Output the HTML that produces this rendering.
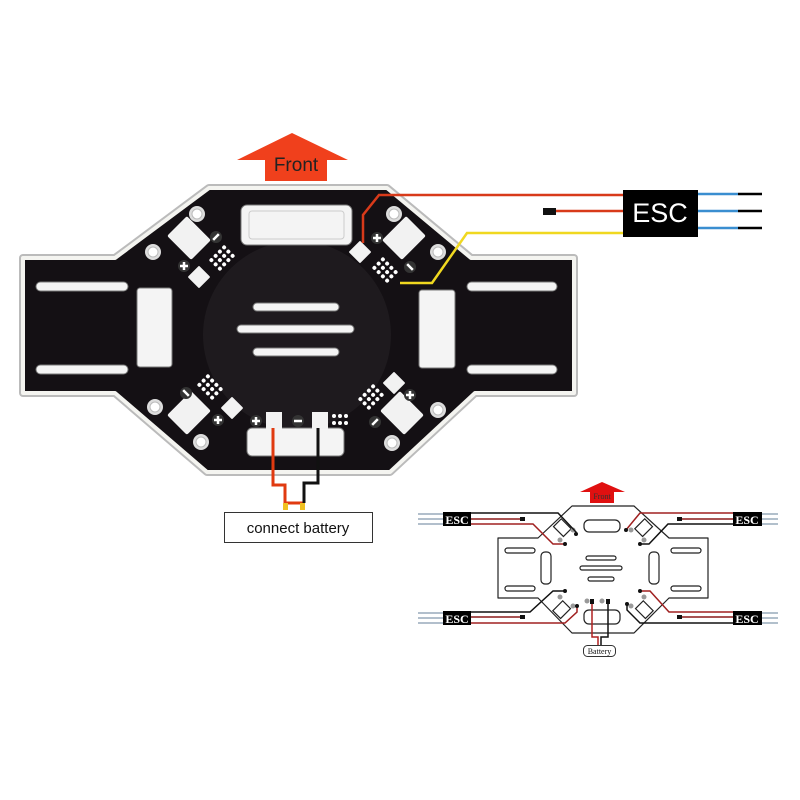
<!DOCTYPE html>
<html><head><meta charset="utf-8"><style>html,body{margin:0;padding:0;background:#fff}svg{display:block}</style></head>
<body>
<svg width="800" height="800" viewBox="0 0 800 800" xmlns="http://www.w3.org/2000/svg" font-family="Liberation Sans, sans-serif">
<defs>
<g id="pad"><rect x="-17" y="-14" width="34" height="28" rx="2" fill="#f2f2f2"/></g>
<g id="sm"><rect x="-8" y="-8" width="16" height="16" rx="1" fill="#f2f2f2"/></g>
<g id="screw"><circle r="8" fill="#ddd"/><circle r="5" fill="#fff" stroke="#bbb" stroke-width="1"/></g>
<g id="dots" fill="#fff">
<circle cx="-9" cy="-6" r="2"/><circle cx="-3" cy="-6" r="2"/><circle cx="3" cy="-6" r="2"/><circle cx="9" cy="-6" r="2"/>
<circle cx="-9" cy="0" r="2"/><circle cx="-3" cy="0" r="2"/><circle cx="3" cy="0" r="2"/><circle cx="9" cy="0" r="2"/>
<circle cx="-9" cy="6" r="2"/><circle cx="-3" cy="6" r="2"/><circle cx="3" cy="6" r="2"/><circle cx="9" cy="6" r="2"/>
</g>
<g id="plus"><circle r="6" fill="#333"/><path d="M-4 0H4M0 -4V4" stroke="#fff" stroke-width="2.5"/></g>
<g id="minus"><circle r="6" fill="#333"/><path d="M-4 0H4" stroke="#fff" stroke-width="2.5"/></g>
</defs>

<!-- Front arrow -->
<polygon points="237,160 292,133 348,160 327,160 327,181 265,181 265,160" fill="#f0401c"/>
<text x="296" y="171" font-size="19" text-anchor="middle" fill="#222">Front</text>

<!-- board -->
<polygon points="209,188 387,188 471,258 574,258 574,393 475,393 390,472 207,472 115,393 23,393 23,258 115,258" fill="#fff" stroke="#bbb" stroke-width="8" stroke-linejoin="round"/>
<polygon points="209,188 387,188 471,258 574,258 574,393 475,393 390,472 207,472 115,393 23,393 23,258 115,258" fill="#141014" stroke="#f4f4f0" stroke-width="4" stroke-linejoin="round"/>
<circle cx="297" cy="335" r="94" fill="#1e1a1e"/>

<!-- slots -->
<g fill="#f4f4f4" stroke="#777" stroke-width="1">
<rect x="36" y="282" width="92" height="9" rx="4.5"/>
<rect x="36" y="365" width="92" height="9" rx="4.5"/>
<rect x="467" y="282" width="90" height="9" rx="4.5"/>
<rect x="467" y="365" width="90" height="9" rx="4.5"/>
<rect x="137" y="288" width="35" height="79" rx="3"/>
<rect x="419" y="290" width="36" height="78" rx="3"/>
<rect x="241" y="205" width="111" height="40" rx="6"/>
<rect x="247" y="428" width="97" height="28" rx="5"/>
<rect x="253" y="303" width="86" height="8" rx="4"/>
<rect x="237" y="325" width="117" height="8" rx="4"/>
<rect x="253" y="348" width="86" height="8" rx="4"/>
</g>
<rect x="249" y="211" width="95" height="28" rx="3" fill="none" stroke="#ccc" stroke-width="1"/>

<!-- corner components -->
<use href="#pad" transform="translate(189,238) rotate(45)"/>
<use href="#sm" transform="translate(199,277) rotate(45)"/>
<use href="#dots" transform="translate(222,258) rotate(-45)"/>
<use href="#screw" x="197" y="214"/><use href="#screw" x="153" y="252"/>
<use href="#minus" transform="translate(216,237) rotate(-45)"/><use href="#plus" x="184" y="266"/>

<use href="#pad" transform="translate(404,238) rotate(-45)"/>
<use href="#sm" transform="translate(360,252) rotate(45)"/>
<use href="#dots" transform="translate(385,270) rotate(45)"/>
<use href="#screw" x="394" y="214"/><use href="#screw" x="438" y="252"/>
<use href="#plus" x="377" y="238"/><use href="#minus" transform="translate(410,267) rotate(45)"/>

<use href="#pad" transform="translate(189,413) rotate(-45)"/>
<use href="#sm" transform="translate(232,408) rotate(45)"/>
<use href="#dots" transform="translate(210,387) rotate(45)"/>
<use href="#screw" x="155" y="407"/><use href="#screw" x="201" y="442"/>
<use href="#plus" x="218" y="420"/><use href="#minus" transform="translate(186,393) rotate(45)"/>

<use href="#pad" transform="translate(402,413) rotate(45)"/>
<use href="#sm" transform="translate(394,383) rotate(45)"/>
<use href="#dots" transform="translate(371,397) rotate(-45)"/>
<use href="#screw" x="438" y="410"/><use href="#screw" x="392" y="443"/>
<use href="#plus" x="410" y="395"/><use href="#minus" transform="translate(375,422) rotate(-45)"/>

<!-- battery pads -->
<use href="#plus" x="256" y="421"/><rect x="266" y="412" width="16" height="17" fill="#f2f2f2"/>
<use href="#minus" x="298" y="421"/><rect x="312" y="412" width="16" height="17" fill="#f2f2f2"/>
<g fill="#fff"><circle cx="334" cy="416" r="2"/><circle cx="340" cy="416" r="2"/><circle cx="346" cy="416" r="2"/><circle cx="334" cy="423" r="2"/><circle cx="340" cy="423" r="2"/><circle cx="346" cy="423" r="2"/></g>

<!-- wires to ESC -->
<polyline points="363,243 363,215 379,195 623,195" fill="none" stroke="#d83a1a" stroke-width="2.5"/>
<rect x="543" y="208" width="13" height="7" fill="#111"/>
<line x1="556" y1="211" x2="623" y2="211" stroke="#d83a1a" stroke-width="2.5"/>
<polyline points="400,283 432,283 467,233 623,233" fill="none" stroke="#f0d820" stroke-width="2.5"/>
<rect x="623" y="190" width="75" height="47" fill="#000"/>
<text x="660" y="222" font-size="27" text-anchor="middle" fill="#fff">ESC</text>
<g stroke-width="2.5">
<line x1="698" y1="194" x2="738" y2="194" stroke="#3a8ed0"/><line x1="738" y1="194" x2="762" y2="194" stroke="#000"/>
<line x1="698" y1="211" x2="738" y2="211" stroke="#3a8ed0"/><line x1="738" y1="211" x2="762" y2="211" stroke="#000"/>
<line x1="698" y1="228" x2="738" y2="228" stroke="#3a8ed0"/><line x1="738" y1="228" x2="762" y2="228" stroke="#000"/>
</g>

<!-- battery wires -->
<polyline points="273,428 273,485 285,485 285,503 304,503" fill="none" stroke="#e03a10" stroke-width="3"/>
<polyline points="318,428 318,483 304,483 304,503" fill="none" stroke="#111" stroke-width="3"/>
<rect x="283" y="503" width="5" height="7" fill="#f0c020"/><rect x="300" y="503" width="5" height="7" fill="#f0c020"/>
<rect x="224.5" y="512.5" width="148" height="30" fill="#fff" stroke="#333" stroke-width="1"/>
<text x="298" y="533" font-size="15" text-anchor="middle" fill="#111">connect battery</text>

<!-- small diagram -->
<polygon points="580,492 602,482 625,492 614,492 614,503 590,503 590,492" fill="#e01010"/>
<text x="602" y="499" font-size="8" font-family="Liberation Serif, serif" text-anchor="middle" fill="#333">Front</text>
<g fill="none" stroke="#222" stroke-width="1.2">
<polygon points="572,506 634,506 669,538 708,538 708,598 669,598 634,633 572,633 538,598 498,598 498,538 538,538" stroke-linejoin="round"/>
<rect x="584" y="520" width="36" height="12" rx="5"/>
<rect x="584" y="610" width="36" height="14" rx="5"/>
<rect x="505" y="548" width="30" height="5" rx="2.5"/><rect x="505" y="586" width="30" height="5" rx="2.5"/>
<rect x="671" y="548" width="30" height="5" rx="2.5"/><rect x="671" y="586" width="30" height="5" rx="2.5"/>
<rect x="541" y="552" width="10" height="32" rx="4"/><rect x="649" y="552" width="10" height="32" rx="4"/>
<rect x="586" y="556" width="30" height="4" rx="2"/><rect x="580" y="566" width="42" height="4" rx="2"/><rect x="588" y="577" width="26" height="4" rx="2"/>
<rect x="555" y="522" width="14" height="11" transform="rotate(45 562 528)"/>
<rect x="637" y="522" width="14" height="11" transform="rotate(-45 644 528)"/>
<rect x="555" y="604" width="14" height="11" transform="rotate(-45 562 610)"/>
<rect x="637" y="604" width="14" height="11" transform="rotate(45 644 610)"/>
</g>
<g fill="#999"><circle cx="573" cy="530" r="2.5"/><circle cx="560" cy="540" r="2.5"/><circle cx="631" cy="530" r="2.5"/><circle cx="644" cy="540" r="2.5"/>
<circle cx="573" cy="606" r="2.5"/><circle cx="560" cy="597" r="2.5"/><circle cx="631" cy="606" r="2.5"/><circle cx="644" cy="597" r="2.5"/>
<circle cx="587" cy="601" r="2.5"/><circle cx="602" cy="601" r="2.5"/></g>
<!-- small wires -->
<g fill="none" stroke-width="1.5">
<polyline points="471,513 558,513 576,532 576,534" stroke="#111"/>
<line x1="471" y1="519" x2="523" y2="519" stroke="#8b1a1a"/>
<polyline points="471,524 533,524 553,544 565,544" stroke="#a02020"/>
<polyline points="733,513 640,513 626,530" stroke="#a02020"/>
<line x1="733" y1="519" x2="680" y2="519" stroke="#8b1a1a"/>
<polyline points="733,524 668,524 649,544 640,544" stroke="#111"/>
<polyline points="471,612 530,612 553,591 565,591" stroke="#111"/>
<line x1="471" y1="617" x2="523" y2="617" stroke="#8b1a1a"/>
<polyline points="471,623 565,623 577,612 577,606" stroke="#a02020"/>
<polyline points="733,612 669,612 650,591 640,591" stroke="#a02020"/>
<line x1="733" y1="617" x2="680" y2="617" stroke="#8b1a1a"/>
<polyline points="733,623 640,623 627,610 627,604" stroke="#111"/>
<polyline points="592,601 592,637 598,637 598,645" stroke="#b02020"/>
<polyline points="608,601 608,637 601,637 601,645" stroke="#111"/>
</g>
<g fill="#111"><rect x="520" y="517" width="5" height="4"/><rect x="677" y="517" width="5" height="4"/><rect x="520" y="615" width="5" height="4"/><rect x="677" y="615" width="5" height="4"/>
<circle cx="576" cy="534" r="2"/><circle cx="565" cy="544" r="2"/><circle cx="626" cy="530" r="2"/><circle cx="640" cy="544" r="2"/>
<circle cx="565" cy="591" r="2"/><circle cx="577" cy="606" r="2"/><circle cx="640" cy="591" r="2"/><circle cx="627" cy="604" r="2"/>
<rect x="590" y="599" width="4" height="5"/><rect x="606" y="599" width="4" height="5"/></g>
<g font-family="Liberation Serif, serif" font-weight="bold" font-size="12" fill="#fff" text-anchor="middle">
<rect x="443" y="512" width="28" height="14" fill="#000"/><text x="457" y="524">ESC</text>
<rect x="733" y="512" width="29" height="14" fill="#000"/><text x="747" y="524">ESC</text>
<rect x="443" y="611" width="28" height="14" fill="#000"/><text x="457" y="623">ESC</text>
<rect x="733" y="611" width="29" height="14" fill="#000"/><text x="747" y="623">ESC</text>
</g>
<g stroke-width="1.5">
<line x1="418" y1="514" x2="443" y2="514" stroke="#9ab"/><line x1="418" y1="519" x2="443" y2="519" stroke="#9ab"/><line x1="418" y1="524" x2="443" y2="524" stroke="#9ab"/>
<line x1="418" y1="613" x2="443" y2="613" stroke="#9ab"/><line x1="418" y1="618" x2="443" y2="618" stroke="#9ab"/><line x1="418" y1="623" x2="443" y2="623" stroke="#9ab"/>
<line x1="762" y1="514" x2="778" y2="514" stroke="#9ab"/><line x1="762" y1="519" x2="778" y2="519" stroke="#9ab"/><line x1="762" y1="524" x2="778" y2="524" stroke="#9ab"/>
<line x1="762" y1="613" x2="778" y2="613" stroke="#9ab"/><line x1="762" y1="618" x2="778" y2="618" stroke="#9ab"/><line x1="762" y1="623" x2="778" y2="623" stroke="#9ab"/>
</g>
<rect x="583.5" y="645.5" width="32" height="11" rx="4" fill="#fff" stroke="#333" stroke-width="1"/>
<text x="599.5" y="654" font-size="8" font-family="Liberation Serif, serif" text-anchor="middle" fill="#111">Battery</text>
</svg>
</body></html>
